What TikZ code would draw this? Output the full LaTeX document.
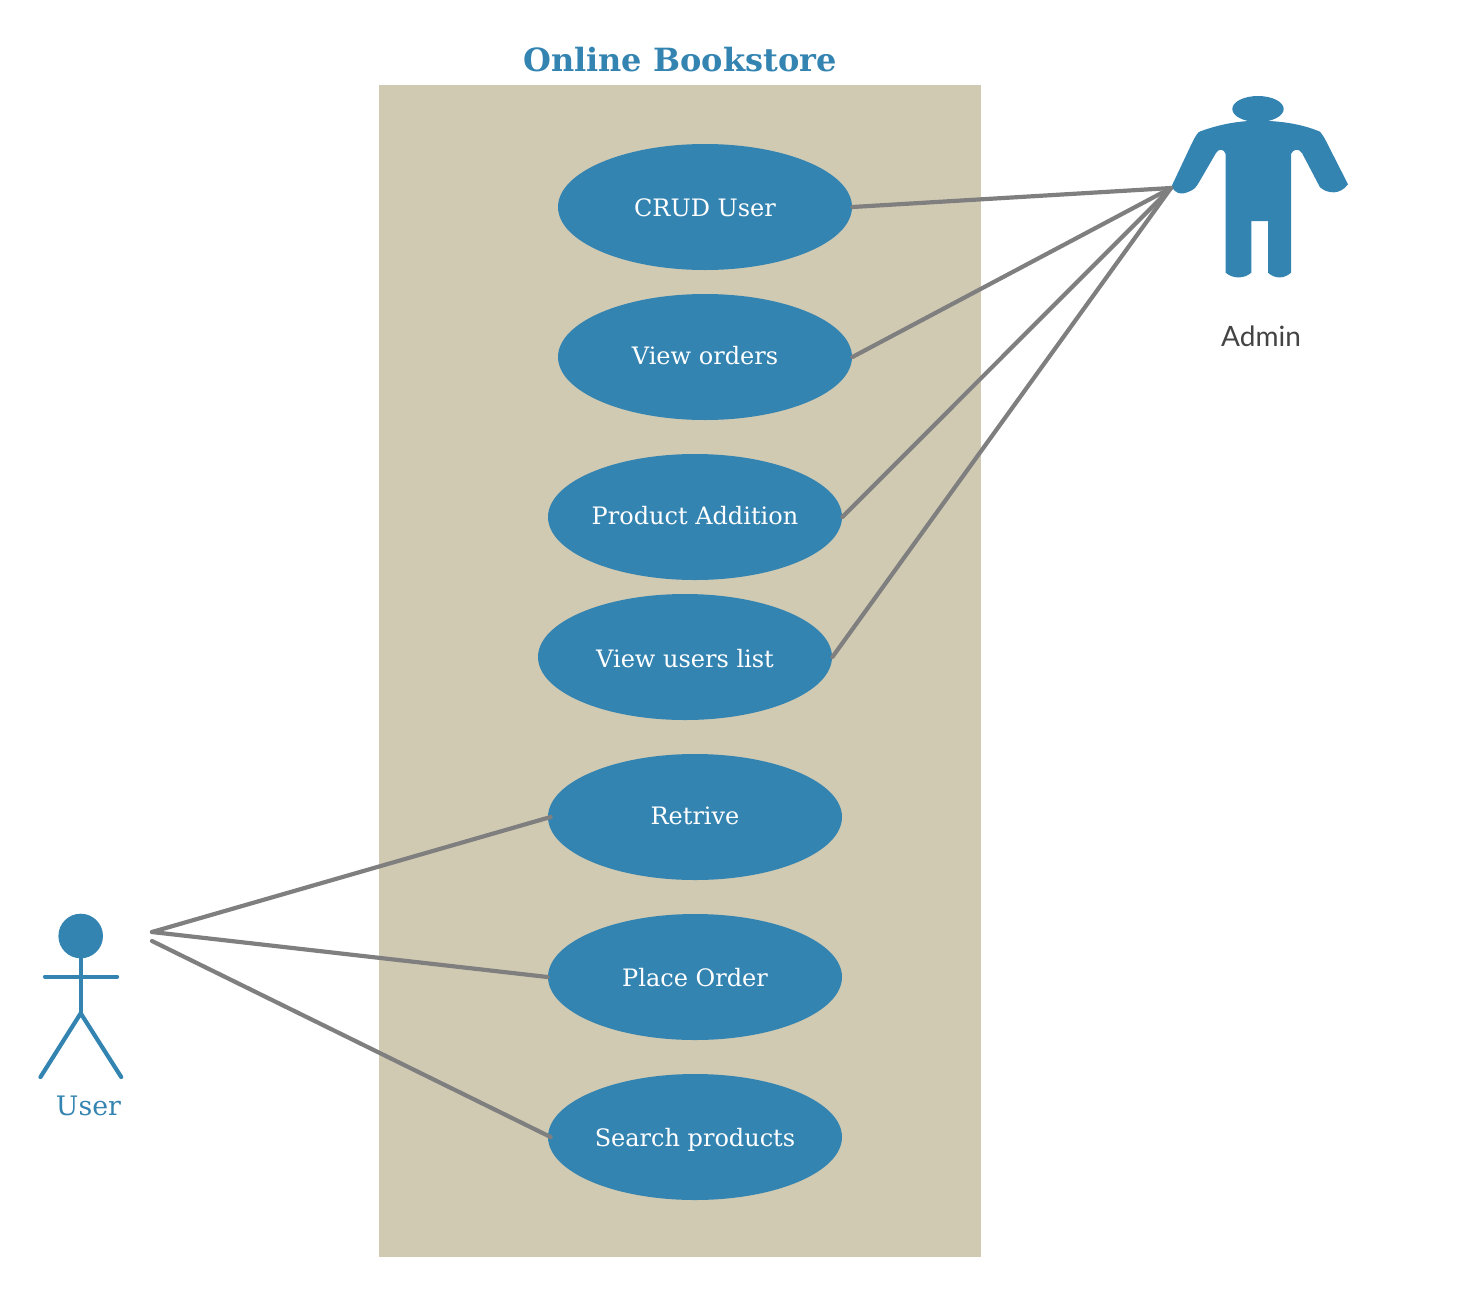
\documentclass[tikz,border=0pt]{standalone}
\usepackage{fontspec}
\setmainfont{DejaVu Serif}
\newfontfamily\adminfont{Lato}
\usetikzlibrary{shapes.geometric}
\definecolor{bsblue}{HTML}{3484B2}
\definecolor{bstan}{HTML}{D1CAB3}
\definecolor{bsgray}{HTML}{7F7F7F}
\definecolor{bstext}{HTML}{444444}
\tikzset{
bssystem/.style={rectangle,fill=bstan,inner sep=0pt,minimum width=301pt,minimum height=586pt},
bscase/.style={ellipse,fill=bsblue,text=white,align=center,inner sep=0pt,minimum width=147pt,minimum height=63pt,text height=9.5pt,text depth=0pt,font=\fontsize{12}{14}\selectfont},
bsraised/.style={text height=7.5pt},
bslowered/.style={text height=10pt},
bstitle/.style={text=bsblue,inner sep=0pt,anchor=base,font=\fontsize{16}{19}\selectfont\bfseries},
bsuser/.style={text=bsblue,inner sep=0pt,anchor=base,font=\fontsize{13.4}{16}\selectfont},
bsadmin/.style={text=bstext,inner sep=0pt,anchor=base,font=\fontsize{14}{17}\selectfont\adminfont},
bslink/.style={bsgray,line width=2.1pt,line cap=round},
bsstick/.style={bsblue,line width=2.1pt,line cap=round}
}
\begin{document}
\begin{tikzpicture}[
x=0.5pt,
y=-0.5pt
]
\useasboundingbox (0,0) rectangle (1480,1297);
\node[bssystem] (system) at (680,671) {};
\node[bstitle] (title) at (680,71) {Online Bookstore};
\node[bscase] (crud) at (705,207) {CRUD User};
\node[bscase,bsraised] (orders) at (705,357) {View orders};
\node[bscase,bsraised] (addition) at (695,517) {Product Addition};
\node[bscase,bslowered] (userslist) at (685,657) {View users list};
\node[bscase,bsraised] (retrive) at (695,817) {Retrive};
\node[bscase] (placeorder) at (695,977) {Place Order};
\node[bscase] (search) at (695,1137) {Search products};
\node[bsuser] (userlabel) at (88.5,1115) {User};
\node[bsadmin] (adminlabel) at (1261,346) {Admin};
\coordinate (adminhand) at (1171,188);
\coordinate (userupper) at (152,932);
\coordinate (userlower) at (152,941);
\fill[bsblue] (1258,109) ellipse [x radius=25.7,y radius=13];
\fill[bsblue] (1171.7,186) -- (1192,143) .. controls (1196,135) and (1198,132) .. (1200,131.5)
  .. controls (1220,124) and (1240,120.7) .. (1258.3,120.7)
  .. controls (1280,120.7) and (1302,124) .. (1320,131.7)
  .. controls (1322,134) and (1324,137) .. (1326,141) -- (1348,184.3)
  .. controls (1340,195) and (1328,194) .. (1320,187.3)
  -- (1302,153) .. controls (1299,148) and (1293,149) .. (1291,154)
  -- (1291,272.7) .. controls (1284,279) and (1275,279) .. (1268,272.7)
  -- (1268,221) -- (1251.3,221) -- (1251.3,272.7)
  .. controls (1244,279) and (1233,279) .. (1225.7,272.7)
  -- (1225.7,154) .. controls (1224,149) and (1219,148) .. (1216,153)
  -- (1198,184) .. controls (1196,187) and (1194,190) .. (1188,192)
  .. controls (1181,195) and (1175,194) .. (1171.7,186) -- cycle;
\fill[bsblue] (80.7,936) circle [radius=22.3];
\draw[bsstick] (80.7,936) -- (80.7,1013.3);
\draw[bsstick] (45,976.7) -- (117,976.7);
\draw[bsstick,line join=round] (40.5,1077) -- (80.7,1013.3) -- (121.2,1077);
\draw[bslink] (crud.east) -- (adminhand);
\draw[bslink] (orders.east) -- (adminhand);
\draw[bslink] (addition.east) -- (adminhand);
\draw[bslink] (userslist.east) -- (adminhand);
\draw[bslink] (userupper) -- ([xshift=1.5pt]retrive.west);
\draw[bslink] (userupper) -- (placeorder.west);
\draw[bslink] (userlower) -- ([xshift=1.5pt]search.west);
\end{tikzpicture}
\end{document}
